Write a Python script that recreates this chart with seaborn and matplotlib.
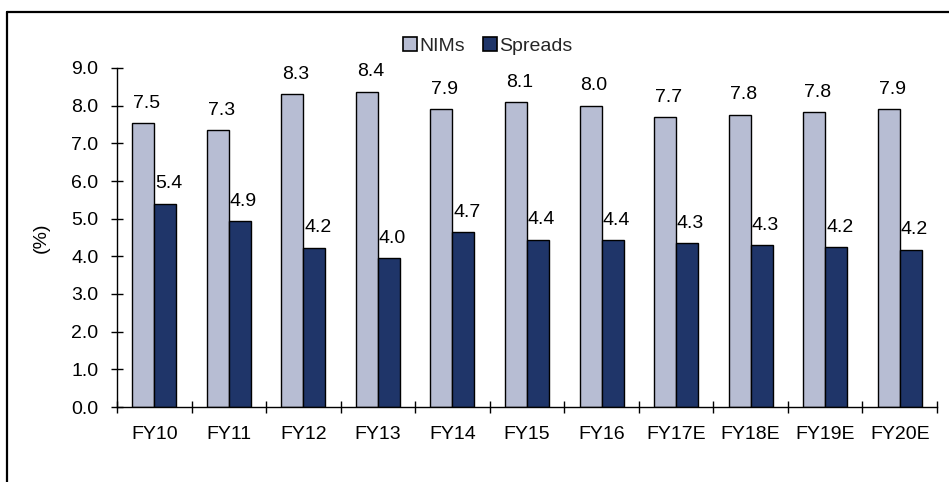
import matplotlib
matplotlib.use("Agg")
import matplotlib.pyplot as plt
import seaborn as sns
import pandas as pd
from matplotlib.lines import Line2D
from matplotlib.ticker import FixedLocator, MultipleLocator, FormatStrFormatter

# Fiscal years and the two rate series (%)
years = ["FY10", "FY11", "FY12", "FY13", "FY14", "FY15", "FY16",
         "FY17E", "FY18E", "FY19E", "FY20E"]
nims = [7.54, 7.35, 8.30, 8.37, 7.91, 8.09, 8.00, 7.70, 7.76, 7.82, 7.90]
spreads = [5.40, 4.94, 4.23, 3.96, 4.65, 4.44, 4.43, 4.35, 4.30, 4.24, 4.18]
series_names = ["NIMs", "Spreads"]
colors = ["#B7BDD3", "#1F3569"]

FS = 14

sns.set_theme(style="white")
plt.rcParams["font.family"] = ["Liberation Sans", "DejaVu Sans"]

df = pd.DataFrame({
    "year": years * 2,
    "value": nims + spreads,
    "series": [series_names[0]] * len(years) + [series_names[1]] * len(years),
})

fig = plt.figure(figsize=(9.49, 4.82), dpi=100)
ax = fig.add_axes([117 / 949, 1 - 407 / 482, 820 / 949, 339 / 482])

sns.barplot(data=df, x="year", y="value", hue="series", order=years,
            hue_order=series_names, palette=colors, width=0.59, gap=0,
            edgecolor="black", linewidth=1.0, saturation=1, ax=ax,
            legend=False)

ax.set_ylim(0, 9)
ax.set_xlim(-0.5, len(years) - 0.5)
ax.yaxis.set_major_locator(MultipleLocator(1.0))
ax.yaxis.set_major_formatter(FormatStrFormatter("%.1f"))

# Value labels above each bar
for container in ax.containers:
    for bar in container:
        h = bar.get_height()
        ax.annotate(f"{h:.1f}", (bar.get_x() + bar.get_width() / 2, h),
                    xytext=(2.5, 11), textcoords="offset points",
                    ha="center", va="baseline", fontsize=FS, color="black",
                    annotation_clip=False)

for side in ["top", "right"]:
    ax.spines[side].set_visible(False)
for side in ["left", "bottom"]:
    ax.spines[side].set_color("black")
    ax.spines[side].set_linewidth(1.0)

# Tick marks sit between categories; labels centred on each group
ax.xaxis.set_minor_locator(FixedLocator([i - 0.5 for i in range(len(years) + 1)]))
ax.tick_params(axis="x", which="major", length=0, pad=14, labelsize=FS,
               colors="black")
ax.tick_params(axis="x", which="minor", direction="inout", length=9,
               width=1.0, color="black", bottom=True)
ax.tick_params(axis="y", which="major", direction="inout", length=9,
               width=1.0, color="black", left=True, pad=9, labelsize=FS,
               labelcolor="black")

ax.set_xlabel("")
ax.set_ylabel("(%)", fontsize=FS, color="black")
ax.yaxis.set_label_coords(-0.082, 0.5)

# Legend with square swatches
handles = [plt.Rectangle((0, 0), 1, 1, facecolor=c, edgecolor="black",
                         linewidth=1.2) for c in colors]
fig.legend(handles, series_names, loc="center",
           bbox_to_anchor=(488 / 949, 1 - 46 / 482), ncol=2, frameon=False,
           fontsize=FS, handlelength=0.7, handleheight=0.7,
           handletextpad=0.15, columnspacing=0.9, borderaxespad=0)

# Outer frame lines
fig.add_artist(Line2D([7 / 949, 1.0], [1 - 12 / 482, 1 - 12 / 482],
                      transform=fig.transFigure, color="black", linewidth=1.6))
fig.add_artist(Line2D([7 / 949, 7 / 949], [0.0, 1 - 12 / 482],
                      transform=fig.transFigure, color="black", linewidth=1.6))

fig.savefig("out.png", dpi=100, facecolor="white")
